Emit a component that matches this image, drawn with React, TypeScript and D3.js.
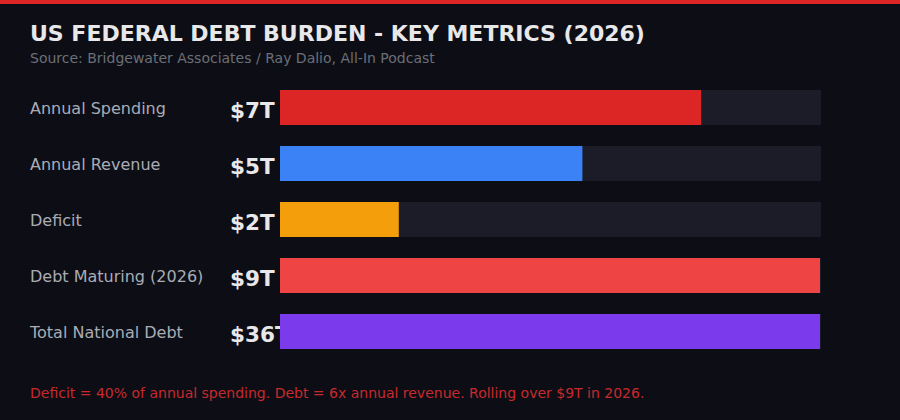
import * as d3 from "d3";

// values in trillions of USD
const categories = [
  "Annual Spending",
  "Annual Revenue",
  "Deficit",
  "Debt Maturing (2026)",
  "Total National Debt",
];
const values = [7, 5, 2, 9, 36];
const valueLabels = ["$7T", "$5T", "$2T", "$9T", "$36T"];
const colors = ["#dc2626", "#3b82f6", "#f59e0b", "#ef4444", "#7c3aed"];
const scaleMax = 9;

const W = 900;
const H = 420;

export default function App() {
  // fill width is the whole-percent share of the track, capped at 100
  const pct = (v: number) => Math.min(100, Math.round((v / scaleMax) * 100));
  const x = d3.scaleLinear().domain([0, 100]).range([280, 820]);
  // step 56, bar height 35
  const y = d3.scaleBand<string>().domain(categories).range([90, 349]).paddingInner(0.375).paddingOuter(0);

  return (
    <div style={{ position: "absolute", left: 0, top: 0 }}>
      <svg width={W} height={H} style={{ display: "block", fontFamily: "DejaVu Sans, sans-serif" }}>
        <rect width={W} height={H} fill="#0d0e15" />
        <rect width={W} height={4} fill="#dc2626" />
        <text x={30} y={41} fontSize={22} fontWeight="bold" fill="#e8e8ea">
          US FEDERAL DEBT BURDEN - KEY METRICS (2026)
        </text>
        <text x={30} y={63} fontSize={14} fill="#6b6e78">
          Source: Bridgewater Associates / Ray Dalio, All-In Podcast
        </text>
        {categories.map((c, i) => {
          const y0 = y(c) ?? 0;
          const bh = y.bandwidth();
          return (
            <g key={c}>
              <text x={30} y={y0 + bh / 2 + 6} fontSize={16} fill="#a9acb5">
                {c}
              </text>
              <text x={230} y={y0 + bh / 2 + 10} fontSize={21.5} fontWeight="bold" fill="#e8e8ea">
                {valueLabels[i]}
              </text>
              <rect x={x(0)} y={y0} width={x(100) - x(0) + 1} height={bh} fill="#1c1c29" />
              <rect x={x(0)} y={y0} width={x(pct(values[i])) - x(0)} height={bh} fill={colors[i]} />
            </g>
          );
        })}
        <text x={30} y={398} fontSize={14} fill="#c8292d">
          Deficit = 40% of annual spending. Debt = 6x annual revenue. Rolling over $9T in 2026.
        </text>
      </svg>
    </div>
  );
}
